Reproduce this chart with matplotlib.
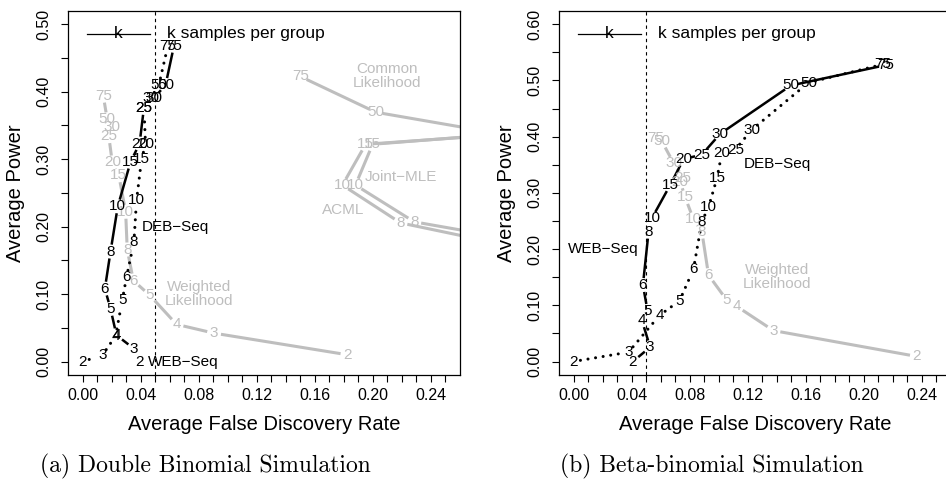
import numpy as np
import matplotlib
matplotlib.use("Agg")
import matplotlib.pyplot as plt

plt.rcParams['font.family'] = ['Liberation Sans', 'DejaVu Sans']

# sample sizes used as point labels
K = [2, 3, 4, 5, 6, 8, 10, 15, 20, 25, 30, 50, 75]

# (a) Double binomial simulation: average FDR / average power
a_web_fdr = [0.0393, 0.0354, 0.0234, 0.0193, 0.0154, 0.0193, 0.0243, 0.0331, 0.0393, 0.0423, 0.0490, 0.0572, 0.0630]
a_web_pow = [0.000, 0.019, 0.039, 0.078, 0.108, 0.163, 0.230, 0.296, 0.323, 0.376, 0.390, 0.410, 0.468]
a_deb_fdr = [0.0000, 0.0136, 0.0228, 0.0274, 0.0303, 0.0354, 0.0372, 0.0407, 0.0434, 0.0423, 0.0469, 0.0526, 0.0588]
a_deb_pow = [0.000, 0.009, 0.038, 0.091, 0.125, 0.177, 0.239, 0.300, 0.322, 0.376, 0.390, 0.410, 0.468]
a_wl_fdr = [0.1825, 0.0906, 0.0648, 0.0464, 0.0350, 0.0308, 0.0297, 0.0250, 0.0205, 0.0181, 0.0205, 0.0170, 0.0143]
a_wl_pow = [0.010, 0.042, 0.055, 0.098, 0.120, 0.166, 0.222, 0.276, 0.295, 0.334, 0.347, 0.359, 0.394]
# the other methods mostly fall outside the plotted range
a_cl_k = [30, 50, 75]
a_cl_fdr = [0.300, 0.202, 0.150]
a_cl_pow = [0.333, 0.3695, 0.4225]
a_jm_k = [6, 8, 10, 15, 20]
a_jm_fdr = [0.300, 0.2285, 0.188, 0.1998, 0.300]
a_jm_pow = [0.180, 0.207, 0.2615, 0.322, 0.339]
a_acml_k = [6, 8, 10, 15, 20]
a_acml_fdr = [0.300, 0.219, 0.179, 0.195, 0.300]
a_acml_pow = [0.169, 0.2055, 0.2615, 0.322, 0.338]

# (b) Beta-binomial simulation
b_web_fdr = [0.0409, 0.0528, 0.0471, 0.0510, 0.0478, 0.0517, 0.0540, 0.0666, 0.0758, 0.0884, 0.1010, 0.1497, 0.2147]
b_web_pow = [0.000, 0.0255, 0.073, 0.090, 0.136, 0.231, 0.255, 0.314, 0.360, 0.368, 0.405, 0.491, 0.527]
b_deb_fdr = [0.0000, 0.0379, 0.0592, 0.0730, 0.0826, 0.0884, 0.0930, 0.0988, 0.1022, 0.1114, 0.1229, 0.1618, 0.2131]
b_deb_pow = [0.000, 0.0166, 0.082, 0.108, 0.164, 0.249, 0.2745, 0.326, 0.371, 0.377, 0.4125, 0.496, 0.5286]
b_wl_fdr = [0.2365, 0.1377, 0.1125, 0.1056, 0.0930, 0.0884, 0.0826, 0.0769, 0.0735, 0.0755, 0.0689, 0.0609, 0.0563]
b_wl_pow = [0.009, 0.055, 0.098, 0.109, 0.1536, 0.231, 0.253, 0.292, 0.320, 0.327, 0.353, 0.3916, 0.3977]

GRAY = '#bebebe'
GAP = 7  # px left free around each label (like R type="b")
FS = 11


def gapped(ax, xs, ys, ks, color, ls='-', lw=1.8):
    pts = ax.transData.transform(np.column_stack([xs, ys]))
    inv = ax.transData.inverted()
    for p0, p1 in zip(pts[:-1], pts[1:]):
        d = p1 - p0
        L = np.hypot(*d)
        if L <= 2 * GAP:
            continue
        u = d / L
        seg = inv.transform(np.array([p0 + u * GAP, p1 - u * GAP]))
        if ls == ':':
            ax.plot(seg[:, 0], seg[:, 1], color=color, lw=2.2, linestyle=(0, (0.01, 2.5)),
                    dash_capstyle='round')
        else:
            ax.plot(seg[:, 0], seg[:, 1], color=color, lw=lw, solid_capstyle='butt')
    for x, y, k in zip(xs, ys, ks):
        ax.text(x, y, str(k), ha='center', va='center', fontsize=FS, color=color, clip_on=True)


fig = plt.figure(figsize=(9.46, 4.83), dpi=100)
ax1 = fig.add_axes([68 / 946, 108 / 483, 392 / 946, 364.3 / 483])
ax2 = fig.add_axes([559 / 946, 108 / 483, 392 / 946, 364.3 / 483])

for ax, ymax in ((ax1, 0.5), (ax2, 0.6)):
    ax.set_xlim(-0.01, 0.26)
    ax.set_ylim(-0.04 * ymax, 1.04 * ymax)
    xt = np.round(np.arange(0, 0.2501, 0.01), 2)
    ax.set_xticks(xt, ['%.2f' % v if i % 4 == 0 else '' for i, v in enumerate(xt)])
    yt = np.round(np.arange(0, ymax + 0.001, 0.05), 2)
    ax.set_yticks(yt, ['%.2f' % v if i % 2 == 0 else '' for i, v in enumerate(yt)])
    ax.tick_params(axis='both', direction='out', length=5, width=0.8, labelsize=11.5)
    ax.tick_params(axis='x', pad=4)
    ax.tick_params(axis='y', pad=7, labelrotation=90)
    for lab in ax.get_yticklabels():
        lab.set_va('center')
    for s in ax.spines.values():
        s.set_linewidth(0.9)
    ax.set_xlabel('Average False Discovery Rate', fontsize=14.5, labelpad=9)
    ax.set_ylabel('Average Power', fontsize=14.5, labelpad=8)
    ax.axvline(0.05, color='black', lw=0.8, linestyle=(0, (3, 3)))
    # legend-like key
    ax.plot([0.048, 0.209], [0.9365, 0.9365], color='black', lw=0.9, transform=ax.transAxes)
    ax.text(0.129, 0.9365, 'k', transform=ax.transAxes, ha='center', va='center', fontsize=12.5)
    ax.text(0.253, 0.9365, 'k samples per group', transform=ax.transAxes, ha='left',
            va='center', fontsize=12.5)

# panel (a)
gapped(ax1, a_wl_fdr, a_wl_pow, K, GRAY, lw=2.2)
gapped(ax1, a_cl_fdr, a_cl_pow, a_cl_k, GRAY, lw=2.2)
gapped(ax1, a_jm_fdr, a_jm_pow, a_jm_k, GRAY, lw=2.2)
gapped(ax1, a_acml_fdr, a_acml_pow, a_acml_k, GRAY, lw=2.2)
gapped(ax1, a_deb_fdr, a_deb_pow, K, 'black', ls=':')
gapped(ax1, a_web_fdr, a_web_pow, K, 'black')
ax1.text(0.041, 0.199, 'DEB\u2212Seq', ha='left', va='center', fontsize=FS)
ax1.text(0.0451, 0.0, 'WEB\u2212Seq', ha='left', va='center', fontsize=FS)
ax1.text(0.080, 0.10, 'Weighted\nLikelihood', ha='center', va='center', fontsize=FS,
         color=GRAY, linespacing=1.05)
ax1.text(0.210, 0.4235, 'Common\nLikelihood', ha='center', va='center', fontsize=FS,
         color=GRAY, linespacing=1.05)
ax1.text(0.2193, 0.274, 'Joint\u2212MLE', ha='center', va='center', fontsize=FS, color=GRAY)
ax1.text(0.1798, 0.224, 'ACML', ha='center', va='center', fontsize=FS, color=GRAY)

# panel (b)
gapped(ax2, b_wl_fdr, b_wl_pow, K, GRAY, lw=2.2)
gapped(ax2, b_deb_fdr, b_deb_pow, K, 'black', ls=':')
gapped(ax2, b_web_fdr, b_web_pow, K, 'black')
ax2.text(-0.0035, 0.200, 'WEB\u2212Seq', ha='left', va='center', fontsize=FS)
ax2.text(0.117, 0.3518, 'DEB\u2212Seq', ha='left', va='center', fontsize=FS)
ax2.text(0.140, 0.150, 'Weighted\nLikelihood', ha='center', va='center', fontsize=FS,
         color=GRAY, linespacing=1.05)

fig.text(205 / 946, 1 - 466 / 483, '(a) Double Binomial Simulation', fontfamily='cmr10',
         fontsize=17, ha='center', va='center')
fig.text(712 / 946, 1 - 466 / 483, '(b) Beta-binomial Simulation', fontfamily='cmr10',
         fontsize=17, ha='center', va='center')

fig.savefig('out.png', dpi=100)
